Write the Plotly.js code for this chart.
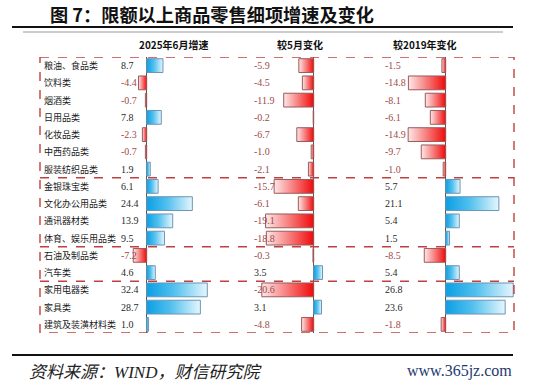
<!DOCTYPE html>
<html>
<head>
<meta charset="utf-8">
<script src="https://cdn.plot.ly/plotly-3.0.1.min.js"></script>
<style>
html,body{margin:0;padding:0;background:#fff;}
#chart{width:550px;height:388px;}
</style>
</head>
<body>
<div id="chart"></div>
<script>
// ---- data ----
const categories = ['粮油、食品类','饮料类','烟酒类','日用品类','化妆品类','中西药品类','服装纺织品类',
  '金银珠宝类','文化办公用品类','通讯器材类','体育、娱乐用品类','石油及制品类','汽车类',
  '家用电器类','家具类','建筑及装潢材料类'];
const growthJun2025 = [8.7,-4.4,-0.7,7.8,-2.3,-0.7,1.9,6.1,24.4,13.9,9.5,-7.2,4.6,32.4,28.7,1.0];
const changeVsMay   = [-5.9,-4.5,-11.9,-0.2,-6.7,-1.0,-2.1,-15.7,-6.1,-19.1,-18.8,-0.3,3.5,-20.6,3.1,-4.8];
const changeVs2019  = [-1.5,-14.8,-8.1,-6.1,-14.9,-9.7,-1.0,5.7,21.1,5.4,1.5,-8.5,5.4,26.8,23.6,-1.8];
const columnTitles = ['2025年6月增速','较5月变化','较2019年变化'];
const groupSizes = [7,4,2,3];
const chartTitle = '图 7：限额以上商品零售细项增速及变化';
const sourceText = '资料来源：<i>WIND</i>，财信研究院';
const siteText = 'www.365jz.com';

// ---- layout helpers (pixel -> paper) ----
const W = 550, H = 388;
const px = x => x / W;
const py = y => 1 - y / H;

const series = [growthJun2025, changeVsMay, changeVs2019];
const axisIds = ['x','x2','x3'];
const valueX = [119, 252, 383];
const headerX = [174, 300, 425];

const blueScale = [[0,'#0b9fe4'],[0.45,'#52c0ee'],[1,'#e6f6fd']];
const redScale  = [[0,'#fde8e8'],[0.5,'#f77a7a'],[1,'#f00a0a']];

const traces = [];
const half = 0.4;
series.forEach((vals, c) => {
  vals.forEach((v, i) => {
    const pos = v >= 0;
    traces.push({
      type: 'scatter', mode: 'lines',
      x: [0, v, v, 0, 0],
      y: [i - half, i - half, i + half, i + half, i - half],
      xaxis: axisIds[c], yaxis: 'y',
      fill: 'toself',
      fillcolor: pos ? '#3bb5ec' : '#f34a4a',
      fillgradient: { type: 'horizontal', colorscale: pos ? blueScale : redScale },
      line: { color: pos ? '#6b96b4' : '#9a5a5a', width: 1 },
      hoverinfo: 'skip', showlegend: false
    });
  });
});

const annotations = [];
categories.forEach((cat, i) => {
  annotations.push({
    xref: 'paper', yref: 'y', x: px(42), y: i, xanchor: 'left', yanchor: 'middle',
    text: cat, showarrow: false,
    font: { family: 'Noto Sans CJK SC', size: 9, color: '#1a1a1a' }
  });
});
series.forEach((vals, c) => {
  vals.forEach((v, i) => {
    annotations.push({
      xref: 'paper', yref: 'y', x: px(valueX[c]), y: i, xanchor: 'left', yanchor: 'middle',
      text: v.toFixed(1), showarrow: false,
      font: { family: 'Liberation Serif', size: 10, color: v < 0 ? '#a04a4a' : '#2a2a2a' }
    });
  });
});
columnTitles.forEach((t, c) => {
  annotations.push({
    xref: 'paper', yref: 'paper', x: px(headerX[c]), y: py(44), xanchor: 'center', yanchor: 'middle',
    text: '<b>' + t + '</b>', showarrow: false,
    font: { family: 'Noto Sans CJK SC', size: 10, color: '#111' }
  });
});
annotations.push({
  xref: 'paper', yref: 'paper', x: px(212), y: py(14), xanchor: 'center', yanchor: 'middle',
  text: '<b>' + chartTitle + '</b>', showarrow: false,
  font: { family: 'Noto Sans CJK SC', size: 18.2, color: '#111' }
});
annotations.push({
  xref: 'paper', yref: 'paper', x: px(145), y: py(372), xanchor: 'center', yanchor: 'middle',
  text: '<i>' + sourceText + '</i>', showarrow: false,
  font: { family: 'Liberation Serif, Noto Sans CJK SC', size: 17, color: '#222' }
});
annotations.push({
  xref: 'paper', yref: 'paper', x: px(460), y: py(371), xanchor: 'center', yanchor: 'middle',
  text: siteText, showarrow: false,
  font: { family: 'Liberation Serif', size: 16, color: '#1d3a70' }
});

const dashRed = { color: '#c0403f', width: 1.4, dash: 'dash' };
const shapes = [
  { type: 'line', xref: 'paper', yref: 'paper', x0: px(12), x1: px(513), y0: py(27), y1: py(27), line: { color: '#111', width: 2 } },
  { type: 'line', xref: 'paper', yref: 'paper', x0: px(23), x1: px(503), y0: py(32), y1: py(32), line: { color: '#999', width: 1 } },
  { type: 'line', xref: 'paper', yref: 'paper', x0: px(12), x1: px(513), y0: py(355), y1: py(355), line: { color: '#111', width: 2 } },
  { type: 'rect', xref: 'paper', yref: 'y', x0: px(40), x1: px(514), y0: -0.5, y1: categories.length - 0.5, line: dashRed }
];
let acc = 0;
groupSizes.slice(0, -1).forEach(n => {
  acc += n;
  shapes.push({ type: 'line', xref: 'paper', yref: 'y', x0: px(40), x1: px(514), y0: acc - 0.5, y1: acc - 0.5, line: dashRed });
});

function xaxisDef(domPx, zeroPx, scale) {
  return {
    domain: [px(domPx[0]), px(domPx[1])],
    range: [(domPx[0] - zeroPx) / scale, (domPx[1] - zeroPx) / scale],
    anchor: 'y',
    showgrid: false, showticklabels: false, ticks: '', showline: false,
    zeroline: true, zerolinecolor: '#555', zerolinewidth: 1, fixedrange: true
  };
}

const layout = {
  width: W, height: H,
  margin: { l: 0, r: 0, t: 0, b: 0 },
  paper_bgcolor: '#fff', plot_bgcolor: 'rgba(0,0,0,0)',
  showlegend: false,
  xaxis: xaxisDef([120, 230], 146.7, 1.87),
  xaxis2: xaxisDef([240, 330], 313.7, 2.52),
  xaxis3: xaxisDef([370, 520], 445.7, 2.52),
  yaxis: {
    domain: [py(333), py(57)],
    range: [categories.length - 0.5, -0.5],
    showgrid: false, showticklabels: false, ticks: '', zeroline: false, showline: false, fixedrange: true
  },
  annotations: annotations,
  shapes: shapes
};

Plotly.newPlot('chart', traces, layout, { staticPlot: true, displayModeBar: false });
</script>
</body>
</html>
